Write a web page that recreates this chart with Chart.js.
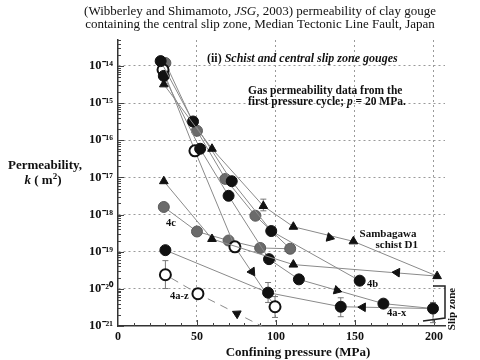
<!DOCTYPE html>
<html>
<head>
<meta charset="utf-8">
<script src="https://cdn.jsdelivr.net/npm/chart.js@4.4.1/dist/chart.umd.min.js"></script>
<style>
  html, body { margin: 0; padding: 0; background: #fff; }
  #wrap { width: 480px; height: 360px; }
</style>
</head>
<body>
<div id="wrap"><canvas id="c" width="480" height="360"></canvas></div>
<script>
// ── DATA · confining pressure (MPa) vs gas permeability k (m²) ──
const xTicks = [0, 50, 100, 150, 200];
const yTicks = [1e-21, 1e-20, 1e-19, 1e-18, 1e-17, 1e-16, 1e-15, 1e-14];
const yTickLabels = ['10⁻²¹', '10⁻²⁰', '10⁻¹⁹', '10⁻¹⁸', '10⁻¹⁷', '10⁻¹⁶', '10⁻¹⁵', '10⁻¹⁴'];

// Sambagawa schist D1 (triangles), loading then unloading
const sambaP = [29, 59.5, 92, 111, 149, 202, 111, 59.5, 29];
const sambaK = [3.2e-15, 5.9e-17, 1.7e-18, 4.7e-19, 1.9e-19, 2.2e-20, 4.5e-20, 2.2e-19, 7.9e-18];

// 4b (black circles)
const s4bP = [27, 47.5, 72, 97, 153];
const s4bK = [1.35e-14, 3.2e-16, 7.9e-18, 3.6e-19, 1.66e-20];

// 4a-x (black circles), loading then unloading
const s4axP = [29, 52, 70, 95.6, 114.5, 168, 199.4, 141, 95, 30];
const s4axK = [5.4e-15, 5.9e-17, 3.2e-18, 6.3e-20, 1.8e-20, 4.0e-21, 2.95e-21, 3.3e-21, 7.9e-21, 1.1e-19];

// 4c (grey circles), loading then unloading
const s4cP = [30, 50, 68, 87, 109, 90, 70, 50, 29];
const s4cK = [1.2e-14, 1.8e-16, 9.1e-18, 9.3e-19, 1.2e-19, 1.26e-19, 2.0e-19, 3.5e-19, 1.6e-18];

// 4a-z (open circles), loading (solid) and unloading (dashed)
const s4azP = [28.5, 48.7, 74, 99.4];
const s4azK = [7.9e-15, 5.2e-17, 1.35e-19, 3.3e-21];
const s4azUnP = [93, 50.6, 30];
const s4azUnK = [9e-22, 7.4e-21, 2.4e-20];

// direction arrows along the paths
const arrowP = [134, 176.6, 138.6, 155, 84.8, 75.3];
const arrowK = [2.4e-19, 2.75e-20, 9.1e-21, 3.2e-21, 2.9e-20, 2.15e-21];
const arrowRot = [104, 274, 106, 271, 146, 297];

// error bars
const errP  = [92, 30, 95, 99.4, 141, 199.4];
const errHi = [2.6e-18, 5.75e-20, 1.48e-20, 6.2e-21, 5.75e-21, 4.3e-21];
const errLo = [1.26e-18, 1.02e-20, 4.3e-21, 1.7e-21, 1.78e-21, 1.23e-21];

// ── STYLE ──
const SERIF = "'Liberation Serif', 'Times New Roman', serif";
const LINE = '#8a8a8a';
const pts = (P, K) => P.map((p, i) => ({ x: p, y: K[i] }));

function series(P, K, style, extra = {}) {
  return {
    data: pts(P, K), showLine: true, borderColor: LINE, borderWidth: 1,
    pointRadius: 5.5, pointHoverRadius: 5.5, ...style, ...extra,
  };
}
const BLACK = { pointStyle: 'circle', pointBackgroundColor: '#111', pointBorderColor: '#111', pointBorderWidth: 1 };
const GREY  = { pointStyle: 'circle', pointBackgroundColor: '#6b6b6b', pointBorderColor: '#5a5a5a', pointBorderWidth: 1 };
const OPEN  = { pointStyle: 'circle', pointBackgroundColor: '#fff', pointBorderColor: '#111', pointBorderWidth: 2 };
const TRI   = { pointStyle: 'triangle', pointBackgroundColor: '#111', pointBorderColor: '#111', pointBorderWidth: 1, pointRadius: 5 };

// ── TEXT HELPER ──
function runs(ctx, parts, x, y, align) {
  let w = 0;
  parts.forEach(p => { ctx.font = p.f; w += ctx.measureText(p.t).width; });
  let cx = align === 'center' ? x - w / 2 : align === 'right' ? x - w : x;
  parts.forEach(p => {
    ctx.font = p.f;
    ctx.fillText(p.t, cx, y + (p.dy || 0));
    cx += ctx.measureText(p.t).width;
  });
}

// ── PLUGINS ──
const decor = {
  id: 'decor',
  beforeDatasetsDraw(chart) {
    const { ctx, chartArea: a, scales: { x, y } } = chart;
    ctx.save();
    ctx.strokeStyle = '#444'; ctx.lineWidth = 1;
    // inward minor ticks
    yTicks.forEach(d => {
      for (let m = 1; m <= 9; m++) {
        const v = d * m;
        if (v > y.max) continue;
        const py = Math.round(y.getPixelForValue(v)) + 0.5;
        ctx.beginPath(); ctx.moveTo(a.left, py); ctx.lineTo(a.left + (m === 1 ? 6 : 3), py); ctx.stroke();
      }
    });
    for (let v = 10; v <= 200; v += 10) {
      const px = Math.round(x.getPixelForValue(v)) + 0.5;
      ctx.beginPath(); ctx.moveTo(px, a.bottom); ctx.lineTo(px, a.bottom - (v % 50 === 0 ? 6 : 3)); ctx.stroke();
    }
    // error bars
    ctx.strokeStyle = '#777';
    errP.forEach((p, i) => {
      const px = x.getPixelForValue(p), y1 = y.getPixelForValue(errHi[i]), y2 = y.getPixelForValue(errLo[i]);
      ctx.beginPath();
      ctx.moveTo(px, y1); ctx.lineTo(px, y2);
      ctx.moveTo(px - 3, y1); ctx.lineTo(px + 3, y1);
      ctx.moveTo(px - 3, y2); ctx.lineTo(px + 3, y2);
      ctx.stroke();
    });
    ctx.restore();
  },
  afterDraw(chart) {
    const { ctx } = chart;
    ctx.save();
    ctx.fillStyle = '#111';
    ctx.textBaseline = 'middle';
    ctx.textAlign = 'left';
    const R = (s) => `${s}px ${SERIF}`;
    const B = (s) => `bold ${s}px ${SERIF}`;
    const BI = (s) => `italic bold ${s}px ${SERIF}`;
    const I = (s) => `italic ${s}px ${SERIF}`;

    // title
    runs(ctx, [{ t: '(Wibberley and Shimamoto, ', f: R(13) }, { t: 'JSG', f: I(13) },
               { t: ', 2003) permeability of clay gouge', f: R(13) }], 260, 12, 'center');
    runs(ctx, [{ t: 'containing the central slip zone, Median Tectonic Line Fault, Japan', f: R(13) }], 260, 25, 'center');

    // panel heading + note
    runs(ctx, [{ t: '(ii) ', f: B(12) }, { t: 'Schist and central slip zone gouges', f: BI(12) }], 207, 59, 'left');
    runs(ctx, [{ t: 'Gas permeability data from the', f: B(11.5) }], 248, 91, 'left');
    runs(ctx, [{ t: 'first pressure cycle; ', f: B(11.5) }, { t: 'p', f: BI(11.5) },
               { t: ' = 20 MPa.', f: B(11.5) }], 248, 102, 'left');

    // axis titles
    runs(ctx, [{ t: 'Permeability,', f: B(13) }], 45, 166, 'center');
    runs(ctx, [{ t: 'k', f: BI(13) }, { t: ' ( m', f: B(13) }, { t: '2', f: B(9), dy: -4 },
               { t: ')', f: B(13) }], 43, 181, 'center');
    runs(ctx, [{ t: 'Confining pressure (MPa)', f: B(13) }], 298, 353, 'center');

    // series labels
    runs(ctx, [{ t: '4c', f: B(10.5) }], 166, 223, 'left');
    runs(ctx, [{ t: '4a-z', f: B(10.5) }], 170, 296, 'left');
    runs(ctx, [{ t: '4b', f: B(10.5) }], 367, 284, 'left');
    runs(ctx, [{ t: '4a-x', f: B(10.5) }], 387, 313, 'left');
    runs(ctx, [{ t: 'Sambagawa', f: B(11) }], 388, 234, 'center');
    runs(ctx, [{ t: 'schist D1', f: B(11) }], 418, 245, 'right');

    // slip zone bracket
    ctx.strokeStyle = '#222'; ctx.lineWidth = 1.5;
    ctx.beginPath(); ctx.moveTo(433, 286); ctx.lineTo(445, 286); ctx.lineTo(445, 318); ctx.lineTo(423, 321); ctx.stroke();
    ctx.translate(452, 309); ctx.rotate(-Math.PI / 2);
    runs(ctx, [{ t: 'Slip zone', f: B(11) }], 0, 0, 'center');
    ctx.restore();
  }
};

// ── CHART ──
new Chart(document.getElementById('c'), {
  type: 'scatter',
  data: {
    datasets: [
      { data: pts(arrowP, arrowK), showLine: false, pointStyle: 'triangle', pointRadius: 5, pointHoverRadius: 5,
        pointRotation: arrowRot, pointBackgroundColor: '#111', pointBorderColor: '#111', pointBorderWidth: 1 },
      series(sambaP, sambaK, TRI),
      series(s4bP, s4bK, BLACK),
      series(s4axP, s4axK, BLACK),
      series(s4azP, s4azK, OPEN),
      series(s4azUnP, s4azUnK, OPEN, { borderDash: [8, 6], pointRadius: [0, 5.5, 5.5] }),
      series(s4cP, s4cK, GREY),
    ]
  },
  options: {
    responsive: false, animation: false, devicePixelRatio: 1,
    layout: { padding: { top: 40, right: 35, left: 0, bottom: 0 } },
    plugins: { legend: { display: false }, tooltip: { enabled: false } },
    scales: {
      x: {
        type: 'linear', min: 0, max: 207,
        afterBuildTicks: (s) => { s.ticks = xTicks.map(v => ({ value: v })); },
        afterFit: (s) => { s.height = 34; },
        ticks: { padding: 4, color: '#111', font: { family: SERIF, size: 12, weight: 'bold' } },
        grid: { color: (c) => c.tick && c.tick.value === 0 ? 'transparent' : '#9a9a9a', lineWidth: 1, drawTicks: false },
        border: { display: true, color: '#333', width: 1.5, dash: [2, 3] },
      },
      y: {
        type: 'logarithmic', min: 1e-21, max: 5e-14,
        afterBuildTicks: (s) => { s.ticks = yTicks.map(v => ({ value: v })); },
        afterFit: (s) => { s.width = 118; },
        ticks: {
          padding: 5, color: '#111', font: { family: SERIF, size: 12.5, weight: 'bold' },
          callback: (v) => { const i = yTicks.indexOf(v); return i >= 0 ? yTickLabels[i] : ''; }
        },
        grid: { color: (c) => c.tick && c.tick.value === 1e-21 ? 'transparent' : '#9a9a9a', lineWidth: 1, drawTicks: false },
        border: { display: true, color: '#333', width: 1.5, dash: [2, 3] },
      }
    }
  },
  plugins: [decor]
});
</script>
</body>
</html>
